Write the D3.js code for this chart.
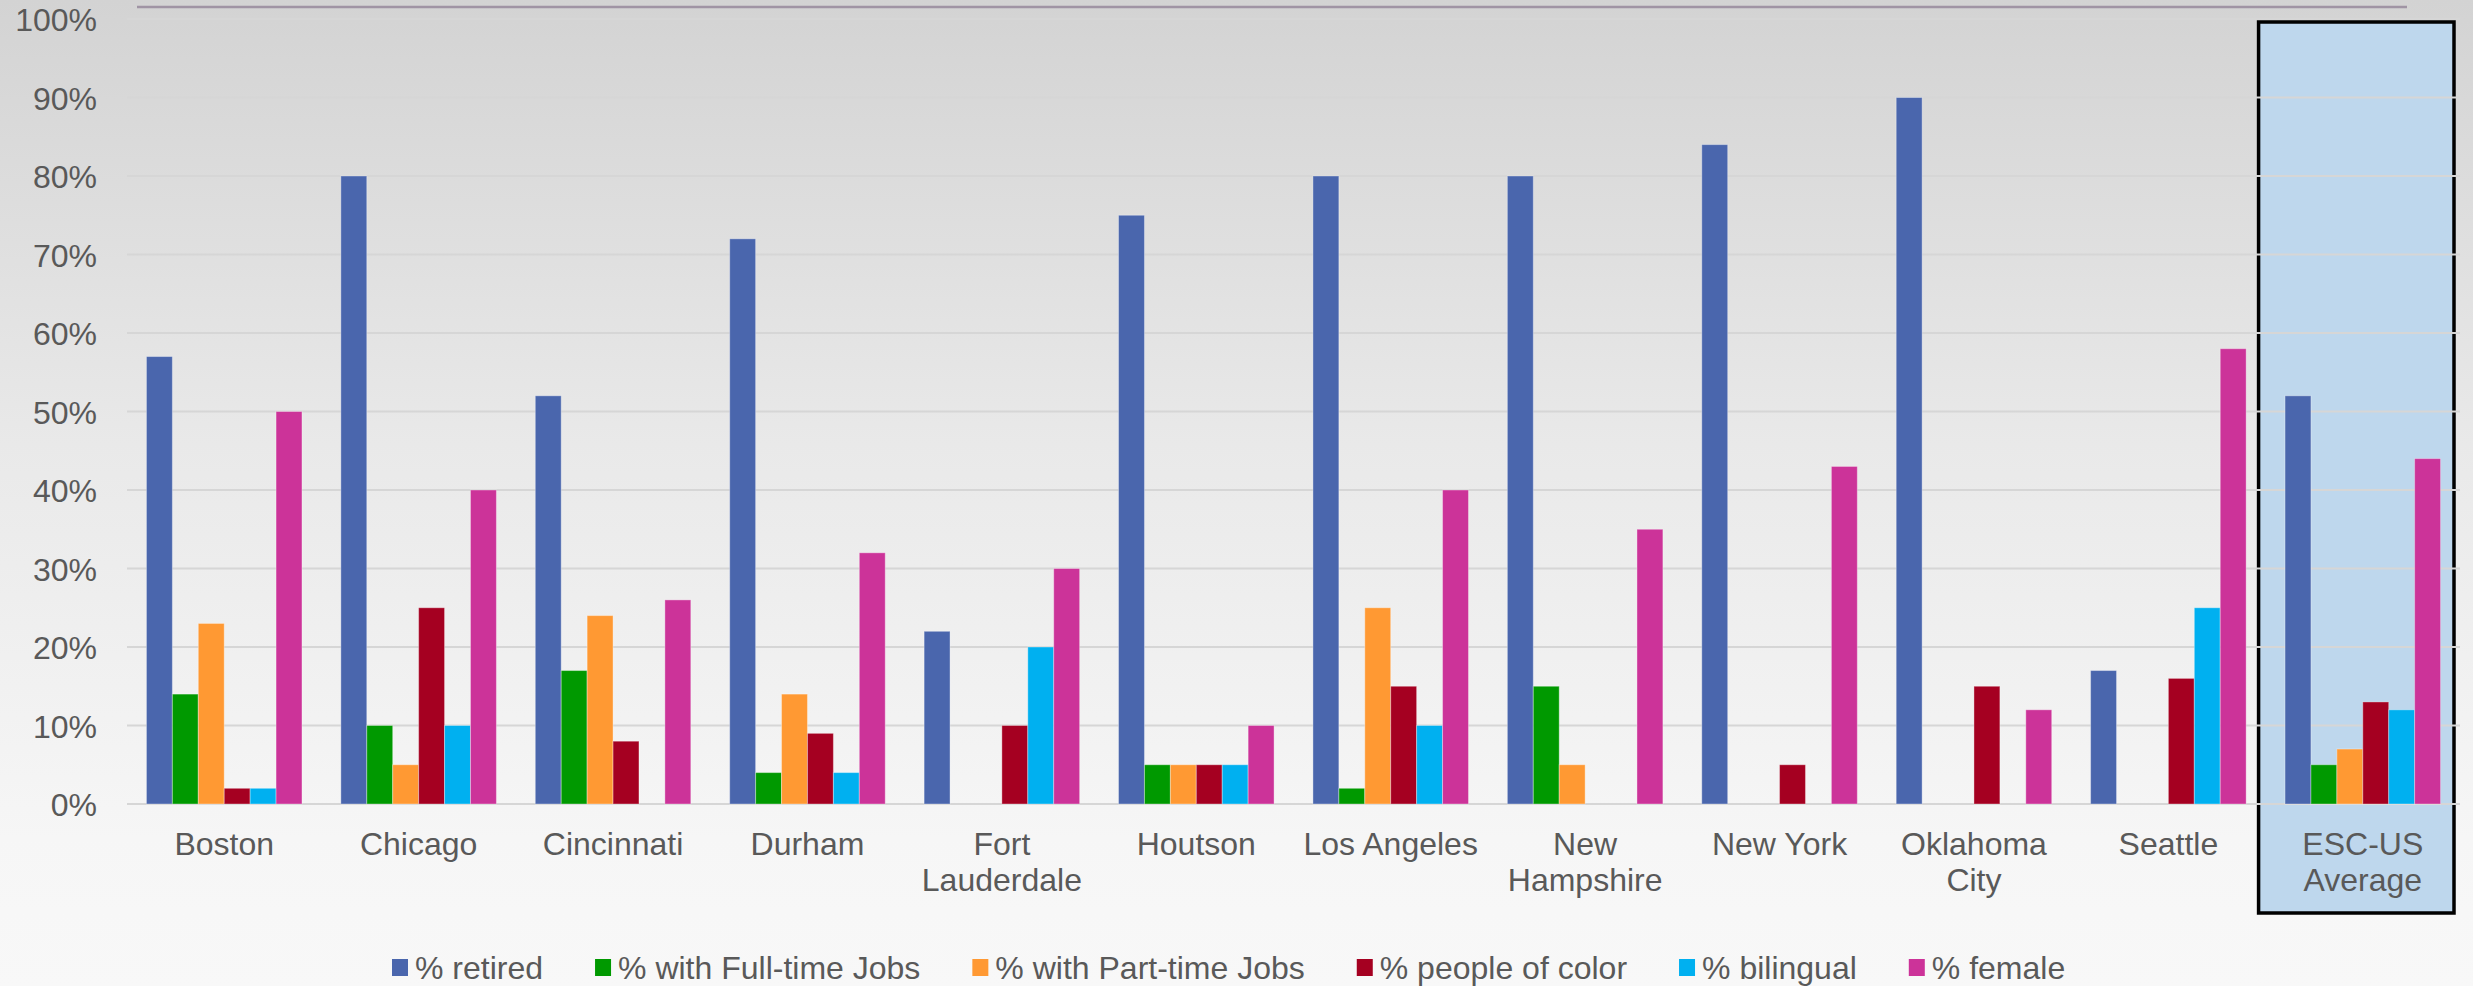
<!DOCTYPE html>
<html>
<head>
<meta charset="utf-8">
<script src="https://cdn.jsdelivr.net/npm/d3@7"></script>
<style>
  html, body { margin: 0; padding: 0; background: #f8f8f8; }
  svg { display: block; }
  text { font-family: "Liberation Sans", Arial, sans-serif; fill: #595959; }
</style>
</head>
<body>
<svg id="chart" width="2473" height="986"></svg>
<script>
// Volunteer profile by city (percent of volunteers)
const cities = [
  ["Boston"], ["Chicago"], ["Cincinnati"], ["Durham"], ["Fort", "Lauderdale"],
  ["Houtson"], ["Los Angeles"], ["New", "Hampshire"], ["New York"],
  ["Oklahoma", "City"], ["Seattle"], ["ESC-US", "Average"]
];
const seriesNames = [
  "% retired", "% with Full-time Jobs", "% with Part-time Jobs",
  "% people of color", "% bilingual", "% female"
];
const seriesColors = ["#4a66ad", "#009900", "#ff9933", "#a50021", "#00b0f0", "#cc3399"];

const retired   = [57, 80, 52, 72, 22, 75, 80, 80, 84, 90, 17, 52];
const fullTime  = [14, 10, 17,  4,  0,  5,  2, 15,  0,  0,  0,  5];
const partTime  = [23,  5, 24, 14,  0,  5, 25,  5,  0,  0,  0,  7];
const ofColor   = [ 2, 25,  8,  9, 10,  5, 15,  0,  5, 15, 16, 13];
const bilingual = [ 2, 10,  0,  4, 20,  5, 10,  0,  0,  0, 25, 12];
const female    = [50, 40, 26, 32, 30, 10, 40, 35, 43, 12, 58, 44];

const yTicks = [0, 10, 20, 30, 40, 50, 60, 70, 80, 90, 100];

const series = [retired, fullTime, partTime, ofColor, bilingual, female];

const W = 2473, H = 986;
const plot = { left: 127, right: 2460, top: 19, bottom: 804 };
const FS = 32;

const svg = d3.select("#chart");

// background wash
const defs = svg.append("defs");
const grad = defs.append("linearGradient")
  .attr("id", "bg").attr("x1", 0).attr("y1", 0).attr("x2", 0).attr("y2", 1);
grad.append("stop").attr("offset", "0").attr("stop-color", "#d3d3d3");
grad.append("stop").attr("offset", "0.45").attr("stop-color", "#e9e9e9");
grad.append("stop").attr("offset", "0.85").attr("stop-color", "#f6f6f6");
grad.append("stop").attr("offset", "1").attr("stop-color", "#f8f8f8");
svg.append("rect").attr("width", W).attr("height", H).attr("fill", "url(#bg)");

// thin rule along the top
svg.append("line")
  .attr("x1", 137).attr("x2", 2407).attr("y1", 7).attr("y2", 7)
  .attr("stroke", "#a094a4").attr("stroke-width", 2.5);

const x0 = d3.scaleBand()
  .domain(d3.range(cities.length))
  .range([plot.left, plot.right])
  .paddingInner(0).paddingOuter(0);

const x1 = d3.scaleBand()
  .domain(d3.range(seriesNames.length))
  .range([x0.bandwidth() * 0.1, x0.bandwidth() * 0.9])
  .padding(0);

const y = d3.scaleLinear().domain([0, 100]).range([plot.bottom, plot.top]);

// highlighted average column
const avgIdx = cities.length - 1;
svg.append("rect")
  .attr("x", x0(avgIdx) - 7)
  .attr("y", 22)
  .attr("width", x0.bandwidth() + 1)
  .attr("height", 913 - 22)
  .attr("fill", "#bed7ed")
  .attr("stroke", "#000")
  .attr("stroke-width", 3.5);

// gridlines
svg.append("g")
  .selectAll("line")
  .data(yTicks)
  .join("line")
  .attr("x1", plot.left).attr("x2", plot.right)
  .attr("y1", d => y(d)).attr("y2", d => y(d))
  .attr("stroke", "#d6d6d6").attr("stroke-width", 2);

// y axis labels
const yAxis = d3.axisLeft(y).tickValues(yTicks).tickFormat(d => d + "%").tickSize(0).tickPadding(0);
const gy = svg.append("g").attr("transform", "translate(97,0)").call(yAxis);
gy.select(".domain").remove();
gy.selectAll("text")
  .attr("font-size", FS)
  .attr("dy", "0.37em")
  .attr("fill", "#595959")
  .style("font-family", "'Liberation Sans', Arial, sans-serif");

// bars
const groups = svg.append("g")
  .selectAll("g")
  .data(cities.map((c, i) => i))
  .join("g")
  .attr("transform", i => `translate(${x0(i)},0)`);

groups.selectAll("rect")
  .data(i => series.map((s, k) => ({ k, v: s[i] })).filter(d => d.v > 0))
  .join("rect")
  .attr("x", d => x1(d.k))
  .attr("width", x1.bandwidth())
  .attr("y", d => y(d.v))
  .attr("height", d => y(0) - y(d.v))
  .attr("fill", d => seriesColors[d.k])
  .attr("stroke", "rgba(255,255,255,0.35)")
  .attr("stroke-width", 1);

// category labels
const xl = svg.append("g")
  .selectAll("text")
  .data(cities)
  .join("text")
  .attr("x", (d, i) => x0(i) + x0.bandwidth() / 2)
  .attr("y", 855)
  .attr("text-anchor", "middle")
  .attr("font-size", FS);
xl.selectAll("tspan")
  .data(d => d)
  .join("tspan")
  .attr("x", function () { return d3.select(this.parentNode).attr("x"); })
  .attr("dy", (d, j) => j === 0 ? 0 : 36)
  .text(d => d);

// legend
const legend = svg.append("g").attr("transform", "translate(0,968)");
let lx = 392;
seriesNames.forEach((name, k) => {
  const item = legend.append("g").attr("transform", `translate(${lx},0)`);
  item.append("rect")
    .attr("x", 0).attr("y", -9).attr("width", 16).attr("height", 17)
    .attr("fill", seriesColors[k]);
  const t = item.append("text")
    .attr("x", 23).attr("y", 0).attr("dy", "0.35em")
    .attr("font-size", FS)
    .text(name);
  lx += 23 + t.node().getComputedTextLength() + 52;
});
</script>
</body>
</html>
